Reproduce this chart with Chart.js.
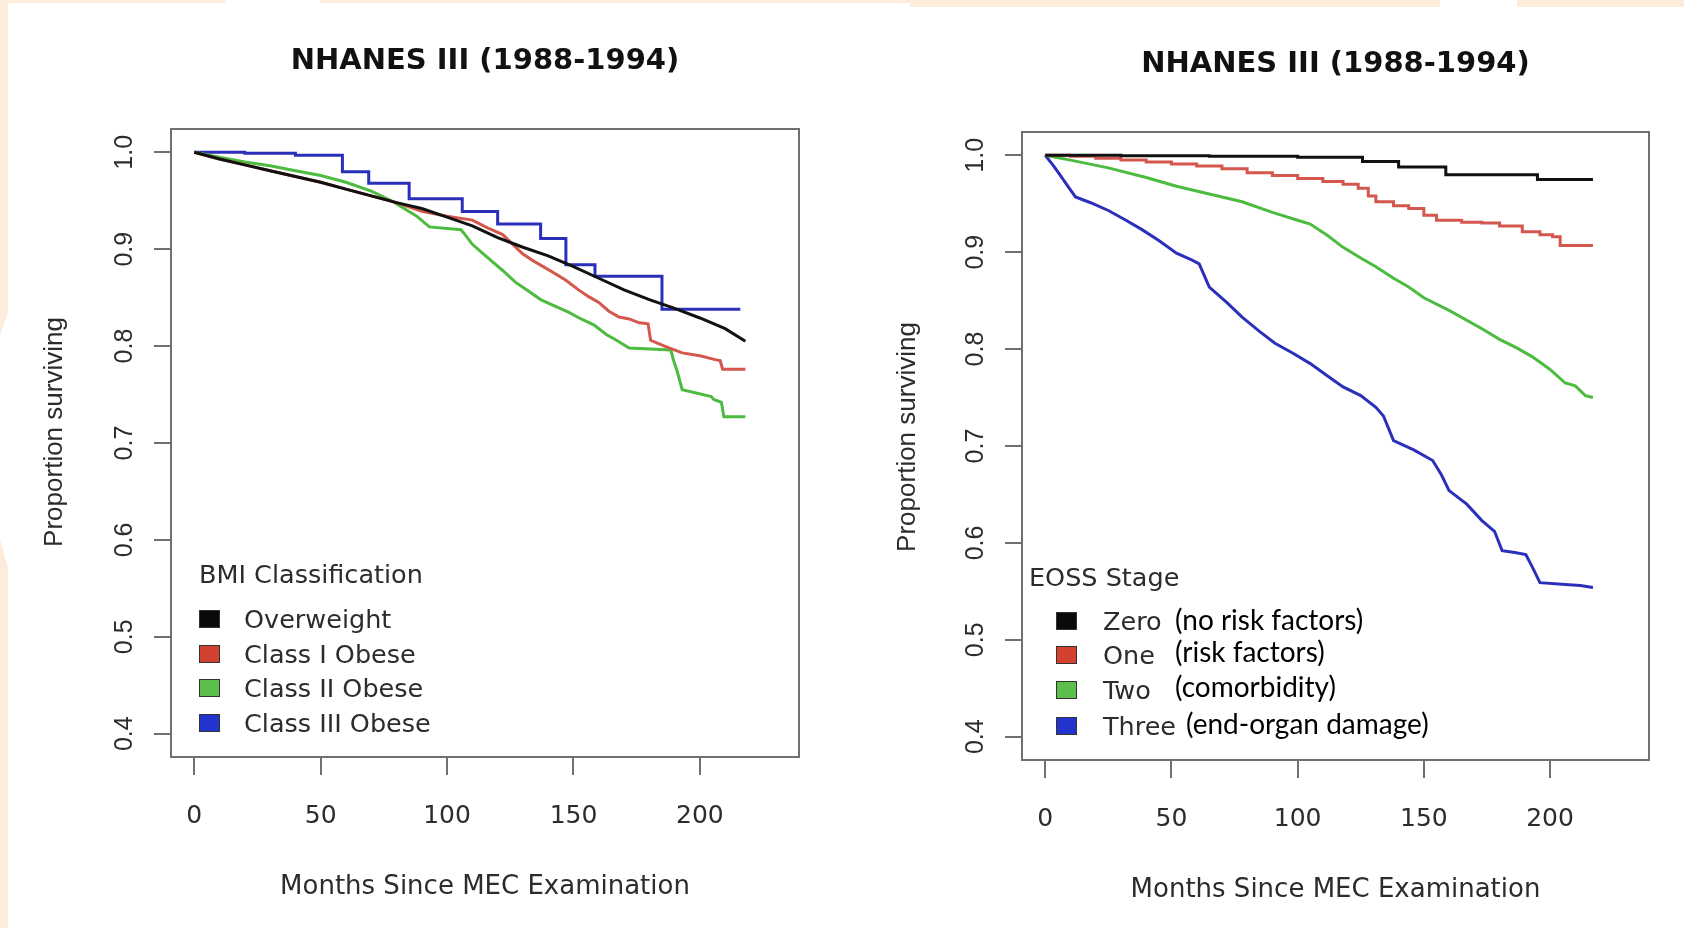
<!DOCTYPE html>
<html>
<head>
<meta charset="utf-8">
<title>NHANES III survival</title>
<script src="https://cdn.jsdelivr.net/npm/chart.js@4.4.1/dist/chart.umd.min.js"></script>
<style>
  body { margin: 0; width: 1684px; height: 928px; background: #fff; position: relative; overflow: hidden; }
  canvas { position: absolute; top: 0; }
  #graficaBMI { left: 0; }
  #graficaEOSS { left: 842px; }
  .franja { position: absolute; background: #fdecdc; }
  #franjaIzq { left: 0; top: 0; width: 8px; height: 928px;
    clip-path: polygon(0 0, 8px 0, 8px 313px, 0 335px, 0 540px, 8px 567px, 8px 928px, 0 928px); }
</style>
</head>
<body>
<!-- adornos del fondo de la diapositiva -->
<div class="franja" style="left:0;top:0;width:225px;height:3px"></div>
<div class="franja" style="left:320px;top:0;width:590px;height:3px"></div>
<div class="franja" style="left:910px;top:0;width:530px;height:7px"></div>
<div class="franja" style="left:1517px;top:0;width:167px;height:7px"></div>
<div class="franja" id="franjaIzq"></div>

<canvas id="graficaBMI" width="842" height="928"></canvas>
<canvas id="graficaEOSS" width="842" height="928"></canvas>

<script>
// ejes comunes
const ticksX = [0, 50, 100, 150, 200];
const ticksY = [0.4, 0.5, 0.6, 0.7, 0.8, 0.9, 1.0];
const etiquetasY = ['0.4', '0.5', '0.6', '0.7', '0.8', '0.9', '1.0'];
const tituloGrafica = 'NHANES III (1988-1994)';
const tituloX = 'Months Since MEC Examination';
const tituloY = 'Proportion surviving';

// gráfica izquierda: clasificación BMI
const bmiTitulo = 'BMI Classification';
const bmiLabels = ['Overweight', 'Class I Obese', 'Class II Obese', 'Class III Obese'];

const mesesOver = [0, 10, 20, 30, 40, 50, 60, 70, 80, 90, 100, 110, 120, 130, 140, 150, 160, 170, 180, 190, 200, 210, 218];
const survOver = [1.0, 0.993, 0.987, 0.981, 0.975, 0.969, 0.962, 0.955, 0.948, 0.942, 0.933, 0.924, 0.912, 0.902, 0.893, 0.882, 0.870, 0.858, 0.848, 0.839, 0.829, 0.818, 0.805];

const mesesClase1 = [0, 10, 20, 30, 40, 50, 60, 70, 80, 90, 100, 110, 116, 122, 126, 130, 134, 138, 142, 147, 152, 156, 160, 164, 168, 172, 176, 179.5, 180.5, 186, 193, 200, 206, 208, 209, 218];
const survClase1 = [1.0, 0.993, 0.987, 0.981, 0.975, 0.969, 0.962, 0.955, 0.948, 0.939, 0.934, 0.930, 0.922, 0.915, 0.905, 0.895, 0.888, 0.882, 0.876, 0.868, 0.858, 0.851, 0.845, 0.836, 0.830, 0.828, 0.824, 0.823, 0.806, 0.800, 0.793, 0.790, 0.786, 0.785, 0.776, 0.776];

const mesesClase2 = [0, 10, 20, 30, 40, 50, 60, 70, 78, 83, 88, 93, 105.5, 106.5, 110, 114, 118, 122, 127, 132, 137, 142, 148, 153, 158, 163, 167, 172, 188.5, 189.5, 191, 193, 204.5, 205.5, 208.5, 209.5, 218];
const survClase2 = [1.0, 0.995, 0.990, 0.986, 0.981, 0.976, 0.969, 0.960, 0.950, 0.942, 0.934, 0.923, 0.920, 0.917, 0.905, 0.896, 0.887, 0.878, 0.866, 0.857, 0.848, 0.842, 0.835, 0.828, 0.822, 0.812, 0.806, 0.798, 0.796, 0.786, 0.774, 0.755, 0.748, 0.745, 0.742, 0.727, 0.727];

const mesesClase3 = [0, 20, 40, 58.6, 69, 85, 106, 120, 137, 147, 158.5, 185, 216];
const survClase3 = [1.0, 0.999, 0.997, 0.980, 0.968, 0.952, 0.939, 0.926, 0.911, 0.884, 0.872, 0.838, 0.838];

// gráfica derecha: etapa EOSS
const eossTitulo = 'EOSS Stage';
const eossLabels = ['Zero', 'One', 'Two', 'Three'];
const eossNotas = ['(no risk factors)', '(risk factors)', '(comorbidity)', '(end-organ damage)'];

const mesesCero = [0, 30, 65, 100, 125.7, 140, 158.7, 195, 217];
const survCero = [1.0, 0.9995, 0.999, 0.998, 0.9935, 0.988, 0.980, 0.975, 0.975];

const mesesUno = [0, 10, 20, 30, 40, 50, 60, 70, 80, 90, 100, 110, 118, 124, 128, 131, 138, 144, 150, 155, 165, 173, 180, 189, 196, 201, 204, 217];
const survUno = [1.0, 0.999, 0.997, 0.995, 0.993, 0.991, 0.989, 0.986, 0.982, 0.979, 0.976, 0.973, 0.970, 0.966, 0.958, 0.952, 0.948, 0.945, 0.938, 0.933, 0.931, 0.930, 0.927, 0.921, 0.918, 0.916, 0.907, 0.907];

const mesesDos = [0, 10, 25, 40, 52, 65, 78, 90, 100, 105, 112, 118, 125, 131, 138, 144, 150, 160, 173, 180, 187, 193, 200, 206, 210, 214, 217];
const survDos = [1.0, 0.995, 0.987, 0.977, 0.968, 0.960, 0.952, 0.941, 0.933, 0.929, 0.917, 0.905, 0.894, 0.885, 0.873, 0.864, 0.853, 0.840, 0.821, 0.810, 0.801, 0.792, 0.779, 0.765, 0.762, 0.752, 0.750];

const mesesTres = [0, 3, 5.5, 9, 12, 18, 25, 32, 38.5, 45, 52, 58, 61, 65, 72, 78, 85, 91, 98, 105, 112, 118, 125, 131, 134, 138, 146, 153.5, 157, 160, 167, 173, 178, 181, 186, 190.4, 193, 196, 206, 212, 217];
const survTres = [1.0, 0.990, 0.981, 0.968, 0.957, 0.951, 0.943, 0.933, 0.923, 0.912, 0.899, 0.892, 0.888, 0.864, 0.848, 0.833, 0.818, 0.806, 0.796, 0.785, 0.772, 0.761, 0.752, 0.740, 0.731, 0.7055, 0.696, 0.685, 0.670, 0.654, 0.640, 0.623, 0.612, 0.592, 0.590, 0.588, 0.575, 0.559, 0.557, 0.556, 0.554];

// colores de las líneas y de los cuadros de la leyenda
const coloresLinea = ['#111111', '#d4574d', '#4dbb40', '#2b30bb'];
const coloresCaja = ['#0a0a0a', '#d2412f', '#5cbf4b', '#2234cc'];

// pasa dos arrays a puntos {x, y}
function puntos(meses, valores) {
    return meses.map((m, i) => ({ x: m, y: valores[i] }));
}

function serie(label, meses, valores, i, escalon) {
    return {
        label: label,
        data: puntos(meses, valores),
        borderColor: coloresLinea[i],
        backgroundColor: coloresCaja[i],
        borderWidth: 3,
        pointRadius: 0,
        stepped: escalon,
        tension: 0
    };
}

// dibuja caja, marcas, textos y leyenda al estilo de R
const marcoR = {
    id: 'marcoR',
    afterDraw(chart, args, o) {
        const ctx = chart.ctx;
        const a = chart.chartArea;
        const sx = chart.scales.x;
        const sy = chart.scales.y;
        ctx.save();

        // caja y marcas de los ejes
        ctx.strokeStyle = '#707070';
        ctx.lineWidth = 2;
        ctx.strokeRect(a.left, a.top, a.right - a.left, a.bottom - a.top);
        ctx.beginPath();
        ticksX.forEach(v => {
            const px = Math.round(sx.getPixelForValue(v));
            ctx.moveTo(px, a.bottom);
            ctx.lineTo(px, a.bottom + 18);
        });
        ticksY.forEach(v => {
            const py = Math.round(sy.getPixelForValue(v));
            ctx.moveTo(a.left, py);
            ctx.lineTo(a.left - 17, py);
        });
        ctx.stroke();

        ctx.textAlign = 'center';
        ctx.textBaseline = 'alphabetic';

        // título
        ctx.fillStyle = '#111';
        ctx.font = 'bold 29px "DejaVu Sans"';
        ctx.fillText(tituloGrafica, (a.left + a.right) / 2, a.top + o.tituloDy);

        // eje x
        ctx.fillStyle = '#2c2c2c';
        ctx.font = '25px "DejaVu Sans"';
        ticksX.forEach(v => ctx.fillText(String(v), sx.getPixelForValue(v), a.bottom + 66));
        ctx.font = '26px "DejaVu Sans"';
        ctx.fillText(tituloX, (a.left + a.right) / 2, a.bottom + 137);

        // eje y, texto girado
        ctx.font = '25px "Liberation Sans"';
        ticksY.forEach((v, i) => {
            ctx.save();
            ctx.translate(a.left - 48, sy.getPixelForValue(v));
            ctx.rotate(-Math.PI / 2);
            ctx.fillText(etiquetasY[i], 0, 9);
            ctx.restore();
        });
        ctx.save();
        ctx.translate(a.left + o.tituloYDx, o.tituloYCentro);
        ctx.rotate(-Math.PI / 2);
        ctx.font = '26px "Liberation Sans"';
        ctx.fillText(tituloY, 0, 9);
        ctx.restore();

        // leyenda
        ctx.textAlign = 'left';
        ctx.font = '25.5px "DejaVu Sans"';
        ctx.fillText(o.leyenda, a.left + o.leyX, a.bottom - 183 + 9);
        chart.data.datasets.forEach((ds, i) => {
            const cy = a.bottom + o.filas[i];
            ctx.fillStyle = ds.backgroundColor;
            ctx.fillRect(a.left + o.cajaX, cy - 9, 21, 18);
            ctx.strokeStyle = '#333';
            ctx.lineWidth = 1;
            ctx.strokeRect(a.left + o.cajaX + 0.5, cy - 8.5, 20, 17);
            ctx.fillStyle = '#2c2c2c';
            ctx.font = '25.5px "DejaVu Sans"';
            ctx.fillText(ds.label, a.left + o.textoX, cy + 9);
        });

        // notas añadidas a mano (solo EOSS)
        if (o.notas) {
            ctx.fillStyle = '#000';
            ctx.font = '28px Lato';
            ctx.textBaseline = 'middle';
            o.notas.forEach((t, i) => ctx.fillText(t, a.left + o.notasX[i], a.bottom + o.notasY[i]));
        }
        ctx.restore();
    }
};

function crearGrafica(id, datasets, padding, extras) {
    const ctx = document.getElementById(id).getContext('2d');
    return new Chart(ctx, {
        type: 'line',
        data: { datasets: datasets },
        options: {
            responsive: false,
            animation: false,
            devicePixelRatio: 1,
            events: [],
            layout: { padding: padding },
            scales: {
                x: { type: 'linear', min: -9.2, max: 239.2, display: false },
                y: { type: 'linear', min: 0.376, max: 1.024, display: false }
            },
            plugins: {
                legend: { display: false },
                tooltip: { enabled: false },
                marcoR: extras
            }
        },
        plugins: [marcoR]
    });
}

// izquierda
crearGrafica('graficaBMI', [
    serie(bmiLabels[0], mesesOver, survOver, 0, false),
    serie(bmiLabels[1], mesesClase1, survClase1, 1, false),
    serie(bmiLabels[2], mesesClase2, survClase2, 2, false),
    serie(bmiLabels[3], mesesClase3, survClase3, 3, true)
], { left: 171, right: 43, top: 129, bottom: 171 }, {
    tituloDy: -60,
    tituloYDx: -118,
    tituloYCentro: 432,
    leyenda: bmiTitulo,
    leyX: 28,
    cajaX: 28,
    textoX: 73,
    filas: [-138, -103, -69, -34]
});

// derecha
crearGrafica('graficaEOSS', [
    serie(eossLabels[0], mesesCero, survCero, 0, true),
    serie(eossLabels[1], mesesUno, survUno, 1, true),
    serie(eossLabels[2], mesesDos, survDos, 2, false),
    serie(eossLabels[3], mesesTres, survTres, 3, false)
], { left: 180, right: 35, top: 132, bottom: 168 }, {
    tituloDy: -60,
    tituloYDx: -116,
    tituloYCentro: 437,
    leyenda: eossTitulo,
    leyX: 7,
    cajaX: 34,
    textoX: 81,
    filas: [-139, -105, -70, -34],
    notas: eossNotas,
    notasX: [153, 153, 153, 164],
    notasY: [-139, -107, -72, -35]
});
</script>
</body>
</html>
